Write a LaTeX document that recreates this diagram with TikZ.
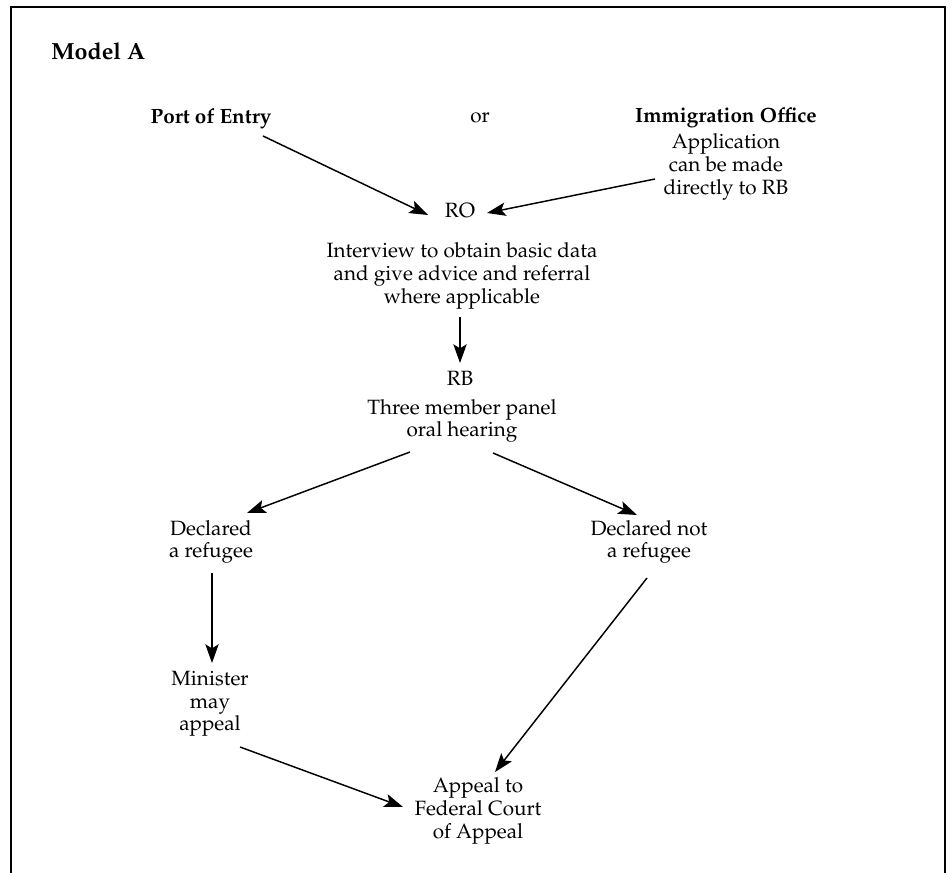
\documentclass[tikz,border=0pt]{standalone}
\usepackage[T1]{fontenc}
\usepackage{mathpazo}
\usetikzlibrary{arrows.meta}
\tikzset{
  txt/.style={inner sep=0pt, align=center, font=\fontsize{15.5}{17}\selectfont},
  btxt/.style={txt, font=\fontsize{15.5}{17}\selectfont\bfseries},
  titletxt/.style={inner sep=0pt, font=\fontsize{17.5}{20}\selectfont\bfseries},
  arr/.style={line width=1.1pt, -{Stealth[length=14pt,width=10pt,inset=3pt]}},
  frame/.style={line width=1.5pt}
}
\begin{document}
\begin{tikzpicture}[x=0.75pt,y=-0.75pt]
\useasboundingbox (0,0) rectangle (952,873);
\draw[frame] (11,873) -- (11,7) -- (945,7) -- (945,873);

\node[titletxt, anchor=base west] (model) at (51,60) {Model A};
\node[btxt] (port) at (211,119) {Port of Entry};
\node[txt] (orn) at (480,118) {or};
\node[btxt] (imm) at (726,118) {Immigration Office};
\node[txt] (app) at (726,167) {Application\\can be made\\directly to RB};
\node[txt] (ro) at (460,211) {RO};
\node[txt] (intv) at (462,276) {Interview to obtain basic data\\and give advice and referral\\where applicable};
\node[txt] (rb) at (460,378) {RB};
\node[txt] (panel) at (462,421) {Three member panel\\oral hearing};
\node[txt] (dref) at (211,542) {Declared\\a refugee};
\node[txt] (dnot) at (649,542) {Declared not\\a refugee};
\node[txt] (mini) at (210,704) {Minister\\may\\appeal};
\node[txt] (appeal) at (478,811) {Appeal to\\Federal Court\\of Appeal};

\draw[arr] ([shift={(52,17)}]port.center) -- ([shift={(-32,4)}]ro.center);
\draw[arr] ([shift={(-71,12)}]app.center) -- ([shift={(27,2)}]ro.center);
\draw[arr] ([shift={(-2,41)}]intv.center) -- ([shift={(0,-15)}]rb.center);
\draw[arr] ([shift={(-52,31)}]panel.center) -- ([shift={(36,-29)}]dref.center);
\draw[arr] ([shift={(31,32)}]panel.center) -- ([shift={(-12,-27)}]dnot.center);
\draw[arr] ([shift={(1,31)}]dref.center) -- ([shift={(2,-41)}]mini.center);
\draw[arr] ([shift={(-2,36)}]dnot.center) -- ([shift={(17,-39)}]appeal.center);
\draw[arr] ([shift={(30,43)}]mini.center) -- ([shift={(-75,-4)}]appeal.center);
\end{tikzpicture}
\end{document}
